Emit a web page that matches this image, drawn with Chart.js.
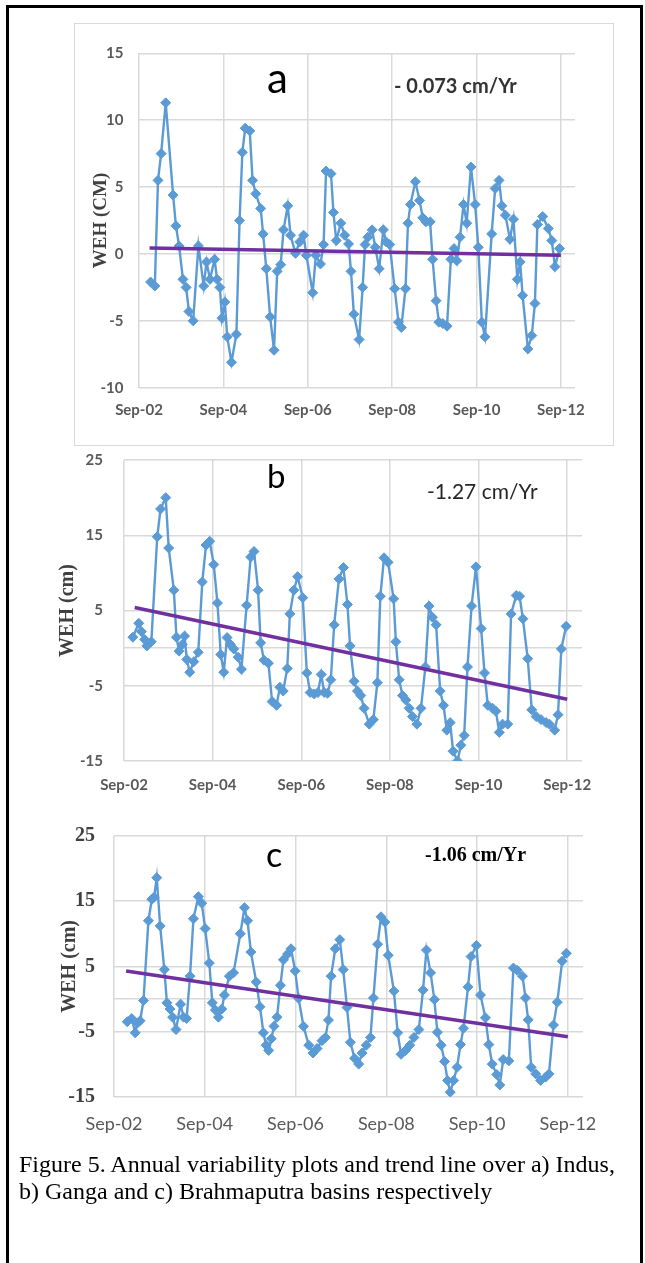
<!DOCTYPE html>
<html>
<head>
<meta charset="utf-8">
<script src="https://cdn.jsdelivr.net/npm/chart.js@4.4.1/dist/chart.umd.min.js"></script>
<style>
html,body{margin:0;padding:0;background:#fff;}
#page{position:relative;width:645px;height:1263px;overflow:hidden;background:#fff;}
#frame{position:absolute;left:6px;top:5px;width:637px;height:1300px;border:3px solid #000;box-sizing:border-box;}
#boxA{position:absolute;left:74px;top:23px;width:540px;height:423px;border:1px solid #D9D9D9;box-sizing:border-box;background:#fff;}
.cv{position:absolute;}
.note{position:absolute;white-space:nowrap;line-height:1;}
#caption{position:absolute;left:19px;top:1151px;font-family:"Liberation Serif","Times New Roman",serif;font-size:24px;line-height:27px;color:#000;white-space:nowrap;}
</style>
</head>
<body>
<div id="page">
  <div id="frame"></div>
  <div id="boxA"></div>
  <div class="cv" style="left:74px;top:23px;width:540px;height:423px;"><canvas id="chartA" width="540" height="423"></canvas></div>
  <div class="cv" style="left:0px;top:430px;width:645px;height:370px;"><canvas id="chartB" width="645" height="370"></canvas></div>
  <div class="cv" style="left:0px;top:805px;width:645px;height:340px;"><canvas id="chartC" width="645" height="340"></canvas></div>

  <div class="note" style="left:267px;top:56px;font-family:Lato,sans-serif;font-size:42px;color:#000;">a</div>
  <div class="note" style="left:394px;top:75px;font-family:Lato,sans-serif;font-weight:bold;font-size:20px;color:#333;">- 0.073 cm/Yr</div>

  <div class="note" style="left:267px;top:459px;font-family:Lato,sans-serif;font-size:33px;color:#000;">b</div>
  <div class="note" style="left:427px;top:480px;font-family:Lato,sans-serif;font-size:21px;color:#262626;">-1.27 cm/Yr</div>

  <div class="note" style="left:266px;top:837px;font-family:Lato,sans-serif;font-size:34px;color:#000;">c</div>
  <div class="note" style="left:425px;top:844px;font-family:'Liberation Serif',serif;font-weight:bold;font-size:20px;color:#000;">-1.06 cm/Yr</div>

  <div id="caption">Figure 5. Annual variability plots and trend line over a) Indus,<br>b) Ganga and c) Brahmaputra basins respectively</div>
</div>

<script>
// ---- Data (months counted from Sep-2002) ----
const xTickMonths = [0, 24, 48, 72, 96, 120];
const xTickLabels = ["Sep-02", "Sep-04", "Sep-06", "Sep-08", "Sep-10", "Sep-12"];

const yTicksA = [-10, -5, 0, 5, 10, 15];
const yTicksBC = [-15, -5, 0, 5, 15, 25];

const monthsA = [3.3,4.5,5.4,6.3,7.6,9.7,10.5,11.4,12.5,13.4,14.2,15.4,16.9,18.4,19.2,20.2,21.5,22.2,23.0,23.6,24.4,25.1,26.3,27.7,28.6,29.4,30.2,31.5,32.3,33.2,34.6,35.3,36.2,37.3,38.4,39.3,40.3,41.1,42.3,43.1,44.5,45.7,46.8,47.6,49.4,50.3,51.6,52.5,53.2,54.6,55.3,56.1,57.4,58.5,59.6,60.3,61.1,62.6,63.6,64.3,65.1,66.3,67.2,68.3,69.5,70.3,71.3,72.7,73.8,74.6,75.8,76.5,77.2,78.6,79.8,80.7,81.6,82.8,83.5,84.5,85.3,86.4,87.6,88.7,89.6,90.4,91.3,92.3,93.2,94.4,95.6,96.5,97.5,98.4,100.3,101.3,102.4,103.2,104.2,105.5,106.5,107.6,108.4,109.1,110.6,111.7,112.6,113.3,114.8,116.4,117.4,118.3,119.6];
const valuesA = [-2.1,-2.4,5.5,7.5,11.3,4.4,2.1,0.6,-1.9,-2.5,-4.3,-5.0,0.6,-2.4,-0.6,-1.9,-0.4,-1.9,-2.5,-4.8,-3.6,-6.2,-8.1,-6.0,2.5,7.6,9.4,9.2,5.5,4.5,3.4,1.5,-1.1,-4.7,-7.2,-1.3,-0.8,1.8,3.6,1.4,0.05,0.9,1.4,-0.1,-2.9,-0.1,-0.75,0.7,6.2,6.0,3.1,1.0,2.3,1.4,0.75,-1.3,-4.5,-6.4,-2.5,0.7,1.25,1.8,0.5,-1.1,1.8,0.9,0.7,-2.6,-5.1,-5.5,-2.6,2.3,3.7,5.4,4.0,2.7,2.4,2.4,-0.4,-3.5,-5.1,-5.2,-5.4,-0.4,0.4,-0.5,1.25,3.7,2.3,6.5,3.7,0.5,-5.1,-6.2,1.5,4.9,5.5,3.6,2.9,1.1,2.6,-1.9,-0.6,-3.1,-7.1,-6.1,-3.7,2.2,2.8,1.9,1.0,-0.95,0.4];

const monthsB = [2.4,4.0,4.7,5.6,6.2,7.4,9.0,9.9,11.3,12.1,13.5,14.2,14.9,15.8,16.4,17.0,17.8,18.9,20.1,21.2,22.2,23.2,24.3,25.3,26.2,27.0,27.9,28.8,29.7,30.9,31.8,33.2,34.3,35.2,36.3,37.0,37.9,39.1,40.1,41.3,42.2,43.1,44.2,44.9,46.0,47.0,48.4,49.5,50.4,51.5,52.5,53.4,54.2,55.1,56.0,56.9,58.2,59.4,60.5,61.2,62.3,63.2,64.1,65.0,66.4,67.5,68.6,69.4,70.4,71.5,73.0,73.6,74.5,75.4,76.3,77.2,78.1,79.3,80.4,81.6,82.6,83.5,84.5,85.6,86.5,87.4,88.3,89.1,90.3,91.2,92.1,93.0,94.1,95.3,96.7,97.6,98.5,99.8,100.7,101.6,102.5,103.9,104.8,106.2,107.1,108.0,109.3,110.4,111.6,112.9,114.3,115.2,116.6,117.5,118.4,119.7];
const valuesB = [1.45,3.3,2.2,1.15,0.3,0.85,14.8,18.5,20.0,13.3,7.7,1.45,-0.4,0.5,1.6,-1.5,-3.2,-1.8,-0.55,8.8,13.7,14.2,11.1,6.0,-0.85,-3.2,1.4,0.5,-0.1,-1.2,-2.8,5.7,12.1,12.85,7.7,0.7,-1.6,-2.0,-7.1,-7.6,-5.2,-5.7,-2.7,4.55,7.7,9.5,6.7,-3.3,-5.9,-6.1,-5.9,-3.5,-5.9,-6.0,-4.2,3.1,9.2,10.7,5.8,0.3,-4.4,-5.7,-6.3,-8.0,-10.1,-9.5,-4.6,6.9,12.0,11.4,6.55,0.85,-4.2,-6.3,-6.9,-8.0,-9.1,-10.1,-8.0,-2.5,5.6,4.1,3.1,-5.7,-7.6,-10.9,-9.9,-13.7,-15.0,-12.9,-11.6,-2.5,5.6,10.8,2.6,-3.3,-7.6,-8.0,-8.4,-11.2,-10.1,-10.1,4.55,7.0,6.9,3.9,-1.4,-8.2,-9.1,-9.5,-9.9,-10.1,-10.9,-8.85,-0.1,2.9];

const monthsC = [3.5,4.7,5.6,6.2,6.9,7.8,9.1,10.0,10.6,11.3,12.2,13.3,14.0,14.8,15.5,16.4,17.6,18.4,19.2,20.1,21.0,22.3,23.2,24.1,25.2,26.0,26.8,27.6,28.5,29.2,30.5,31.6,33.4,34.5,35.3,36.2,37.6,38.6,39.5,40.2,40.9,41.6,42.3,43.1,44.0,44.8,45.9,46.8,47.9,48.8,50.1,51.5,52.6,53.7,55.0,55.9,56.7,57.4,58.5,59.7,60.6,61.6,62.5,63.6,64.7,65.6,66.7,67.8,68.6,69.7,70.6,71.6,72.5,74.0,75.0,75.9,77.1,78.2,79.3,80.6,81.7,82.6,83.7,84.7,85.5,86.5,87.4,88.2,88.9,89.8,90.7,91.6,92.4,93.6,94.4,95.8,96.9,98.2,99.1,100.0,101.2,102.0,102.9,104.4,105.6,106.6,108.0,108.8,109.5,110.3,111.5,112.8,114.1,115.0,116.2,117.2,118.5,119.6];
const valuesC = [-3.5,-3.0,-5.2,-3.7,-3.35,-0.25,12.0,15.3,15.6,18.6,11.2,4.5,-0.6,-1.55,-2.8,-4.7,-0.8,-2.8,-3.0,3.5,12.3,15.7,14.7,10.8,5.5,-0.6,-1.7,-2.8,-1.55,0.6,3.5,4.0,10.0,14.0,12.0,7.2,2.6,-1.2,-5.2,-7.1,-7.9,-6.1,-4.2,-2.8,2.1,6.0,6.9,7.7,4.3,0.1,-4.2,-7.1,-8.3,-7.6,-6.4,-5.9,-3.25,3.5,7.7,9.1,4.5,-1.3,-6.65,-9.1,-10.0,-8.3,-7.1,-5.9,0.15,8.4,12.6,11.8,6.7,1.2,-5.2,-8.5,-7.9,-7.1,-5.9,-4.7,1.35,7.5,4.0,-0.1,-5.1,-7.1,-9.6,-12.5,-14.3,-12.5,-10.5,-7.0,-4.5,1.85,6.5,8.2,0.6,-2.9,-7.0,-10.0,-11.6,-13.2,-9.3,-9.5,4.75,4.4,3.5,0.15,-3.2,-10.5,-11.5,-12.5,-12.0,-11.5,-4.0,-0.5,5.8,7.0];

// Linear trend lines (start / end month and value)
const trendMonthsA = [3.0, 120];
const trendValuesA = [0.45, -0.1];
const trendMonthsB = [2.9, 120];
const trendValuesB = [5.4, -6.8];
const trendMonthsC = [3.2, 120];
const trendValuesC = [4.3, -5.8];

// ---- helpers ----
const BLUE = '#5B9BD5';
const PURPLE = '#7030A0';
const GRID = '#D9D9D9';

function pts(xs, ys) { return xs.map((x, i) => ({ x: x, y: ys[i] })); }

function makeChart(id, o) {
  return new Chart(document.getElementById(id), {
    type: 'line',
    data: {
      datasets: [
        {
          data: pts(o.months, o.values),
          borderColor: BLUE, backgroundColor: BLUE, borderWidth: 2.4,
          pointStyle: 'rectRot', pointRadius: 5, pointBackgroundColor: BLUE,
          pointBorderColor: BLUE, pointBorderWidth: 1, tension: 0, order: 2
        },
        {
          data: pts(o.trendMonths, o.trendValues),
          borderColor: PURPLE, borderWidth: 3.5, pointRadius: 0, tension: 0, order: 1
        }
      ]
    },
    options: {
      responsive: false, animation: false, devicePixelRatio: 1,
      layout: { padding: o.padding },
      plugins: { legend: { display: false }, tooltip: { enabled: false } },
      scales: {
        x: {
          type: 'linear', min: 0, max: 124,
          afterBuildTicks: s => { s.ticks = xTickMonths.map(v => ({ value: v })); },
          afterFit: s => { s.height = o.xHeight; },
          grid: { color: GRID, lineWidth: 1.5, drawTicks: false },
          border: { display: false },
          ticks: {
            padding: o.xPad, maxRotation: 0, autoSkip: false, color: '#595959',
            font: o.xFont,
            callback: v => xTickLabels[xTickMonths.indexOf(v)]
          }
        },
        y: {
          min: o.yMin, max: o.yMax,
          afterBuildTicks: s => { s.ticks = o.yTicks.map(v => ({ value: v })); },
          afterFit: s => { s.width = o.yWidth; },
          grid: { color: GRID, lineWidth: 1.5, drawTicks: false },
          border: { display: false },
          ticks: {
            padding: o.yPad, color: o.yColor || '#595959', font: o.yFont,
            callback: v => (o.hideZero && v === 0) ? '' : String(v)
          },
          title: {
            display: true, text: o.title, color: '#404040', padding: 0,
            font: { family: "'Liberation Serif', 'Times New Roman', serif", weight: 'bold', size: o.titleSize }
          }
        }
      }
    }
  });
}

makeChart('chartA', {
  months: monthsA, values: valuesA, trendMonths: trendMonthsA, trendValues: trendValuesA,
  yMin: -10, yMax: 15, yTicks: yTicksA, hideZero: false,
  padding: { left: 16, right: 39, top: 30.3, bottom: 0 },
  yWidth: 49, xHeight: 58.3, yPad: 15.5, xPad: 13,
  xFont: { family: 'Lato', weight: 'bold', size: 15 },
  yFont: { family: 'Lato', weight: 'bold', size: 15 },
  title: 'WEH (CM)', titleSize: 19
});

makeChart('chartB', {
  months: monthsB, values: valuesB, trendMonths: trendMonthsB, trendValues: trendValuesB,
  yMin: -15, yMax: 25, yTicks: yTicksBC, hideZero: true,
  padding: { left: 56, right: 63, top: 17, bottom: 0 },
  yWidth: 68, xHeight: 39, yPad: 21, xPad: 15,
  xFont: { family: 'Lato', weight: 'bold', size: 15 },
  yFont: { family: 'Lato', weight: 'bold', size: 15 },
  title: 'WEH (cm)', titleSize: 20
});

makeChart('chartC', {
  months: monthsC, values: valuesC, trendMonths: trendMonthsC, trendValues: trendValuesC,
  yMin: -15, yMax: 25, yTicks: yTicksBC, hideZero: true,
  padding: { left: 58, right: 62, top: 17.3, bottom: 0 },
  yWidth: 56, xHeight: 48.3, yPad: 19, xPad: 17,
  xFont: { family: 'Lato', weight: 'normal', size: 18 },
  yFont: { family: "'Liberation Serif', 'Times New Roman', serif", weight: 'bold', size: 20 },
  yColor: '#404040',
  title: 'WEH (cm)', titleSize: 20
});
</script>
</body>
</html>
